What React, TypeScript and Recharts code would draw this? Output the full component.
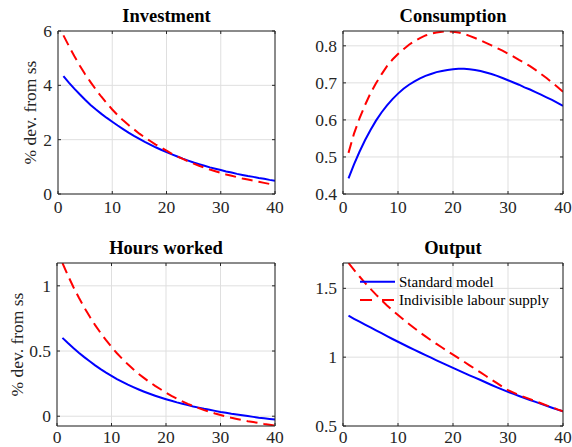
import { LineChart, Line, XAxis, YAxis, CartesianGrid, Legend } from 'recharts';

const PERIODS = [
  1, 2, 3, 4, 5, 6, 7, 8, 9, 10, 11, 12, 13, 14, 15, 16, 17, 18, 19, 20,
  21, 22, 23, 24, 25, 26, 27, 28, 29, 30, 31, 32, 33, 34, 35, 36, 37, 38, 39, 40,
];

const INVEST_STD = [
  4.34, 4.10, 3.88, 3.67, 3.47, 3.28, 3.11, 2.95, 2.80, 2.66, 2.52, 2.39, 2.26, 2.14, 2.03, 1.92, 1.82, 1.72, 1.63, 1.54,
  1.46, 1.38, 1.30, 1.23, 1.16, 1.10, 1.04, 0.98, 0.93, 0.88, 0.83, 0.79, 0.74, 0.70, 0.66, 0.63, 0.59, 0.56, 0.52, 0.49,
];
const INVEST_INDIV = [
  5.84, 5.45, 5.08, 4.73, 4.41, 4.12, 3.84, 3.58, 3.34, 3.11, 2.90, 2.71, 2.54, 2.38, 2.22, 2.08, 1.95, 1.82, 1.71, 1.60,
  1.48, 1.38, 1.29, 1.20, 1.12, 1.04, 0.97, 0.90, 0.84, 0.78, 0.72, 0.67, 0.62, 0.57, 0.53, 0.49, 0.45, 0.41, 0.37, 0.33,
];

const CONS_STD = [
  0.442, 0.480, 0.514, 0.545, 0.573, 0.598, 0.620, 0.639, 0.656, 0.671, 0.684, 0.695, 0.704, 0.712, 0.719, 0.724, 0.729, 0.732, 0.735, 0.737,
  0.738, 0.738, 0.737, 0.735, 0.732, 0.728, 0.724, 0.719, 0.713, 0.707, 0.701, 0.695, 0.688, 0.682, 0.675, 0.668, 0.661, 0.654, 0.646, 0.638,
];
const CONS_INDIV = [
  0.511, 0.563, 0.604, 0.640, 0.672, 0.699, 0.723, 0.745, 0.763, 0.778, 0.791, 0.803, 0.813, 0.821, 0.828, 0.833, 0.836, 0.838, 0.839, 0.838,
  0.836, 0.832, 0.827, 0.821, 0.815, 0.808, 0.801, 0.794, 0.787, 0.779, 0.771, 0.762, 0.754, 0.745, 0.735, 0.724, 0.713, 0.701, 0.689, 0.676,
];

const HOURS_STD = [
  0.601, 0.561, 0.523, 0.487, 0.453, 0.421, 0.390, 0.361, 0.334, 0.309, 0.285, 0.263, 0.242, 0.223, 0.205, 0.188, 0.172, 0.157, 0.143, 0.130,
  0.118, 0.106, 0.095, 0.085, 0.075, 0.066, 0.057, 0.049, 0.041, 0.033, 0.026, 0.019, 0.013, 0.007, 0.001, -0.005, -0.011, -0.016, -0.021, -0.026,
];
const HOURS_INDIV = [
  1.175, 1.080, 0.991, 0.910, 0.834, 0.764, 0.699, 0.639, 0.583, 0.531, 0.483, 0.439, 0.398, 0.360, 0.324, 0.292, 0.261, 0.233, 0.207, 0.180,
  0.156, 0.134, 0.114, 0.095, 0.078, 0.062, 0.047, 0.034, 0.021, 0.009, -0.002, -0.012, -0.021, -0.030, -0.038, -0.045, -0.052, -0.059, -0.065, -0.071,
];

const OUTPUT_STD = [
  1.301, 1.279, 1.258, 1.237, 1.216, 1.195, 1.174, 1.153, 1.132, 1.112, 1.092, 1.072, 1.053, 1.034, 1.015, 0.996, 0.977, 0.958, 0.940, 0.922,
  0.904, 0.886, 0.868, 0.851, 0.834, 0.816, 0.798, 0.781, 0.764, 0.748, 0.733, 0.718, 0.703, 0.689, 0.675, 0.661, 0.647, 0.633, 0.619, 0.606,
];
const OUTPUT_INDIV = [
  1.684, 1.634, 1.586, 1.540, 1.496, 1.454, 1.414, 1.376, 1.340, 1.306, 1.273, 1.241, 1.210, 1.180, 1.151, 1.123, 1.096, 1.070, 1.044, 1.019,
  0.993, 0.967, 0.941, 0.915, 0.889, 0.863, 0.837, 0.811, 0.785, 0.760, 0.742, 0.725, 0.710, 0.695, 0.680, 0.665, 0.650, 0.636, 0.621, 0.607,
];

const X_TICKS = [0, 10, 20, 30, 40];
const INVEST_TICKS = [0, 2, 4, 6];
const CONS_TICKS = [0.4, 0.5, 0.6, 0.7, 0.8];
const HOURS_TICKS = [0, 0.5, 1];
const OUTPUT_TICKS = [0.5, 1, 1.5];

const SERIES_NAMES = ['Standard model', 'Indivisible labour supply'];
const Y_LABEL = '% dev. from ss';

const FONT = '"Liberation Serif", "Times New Roman", serif';
const AXIS = '#262626';
const GRID = '#dfdfdf';
const BLUE = '#0000ff';
const RED = '#ff0000';
const DASH = '11 6';

function XTick({ x, y, payload, dy }: any) {
  return (
    <g>
      <line x1={x} y1={y} x2={x} y2={y - 3} stroke={AXIS} />
      <text x={x} y={y + dy} textAnchor="middle" fontSize={17.5} fontFamily={FONT} fill={AXIS}>
        {payload.value}
      </text>
    </g>
  );
}

function TopTick({ x, y }: any) {
  return <line x1={x} y1={y} x2={x} y2={y + 3} stroke={AXIS} />;
}

function YTick({ x, y, payload }: any) {
  return (
    <g>
      <line x1={x} y1={y} x2={x + 3} y2={y} stroke={AXIS} />
      <text x={x - 6} y={y + 6} textAnchor="end" fontSize={17.5} fontFamily={FONT} fill={AXIS}>
        {payload.value}
      </text>
    </g>
  );
}

function RightTick({ x, y }: any) {
  return <line x1={x} y1={y} x2={x - 3} y2={y} stroke={AXIS} />;
}

function LegendBox() {
  return (
    <svg width={210} height={42} style={{ display: 'block', overflow: 'visible' }}>
      <line x1={4} y1={11.7} x2={39} y2={11.7} stroke={BLUE} strokeWidth={2} />
      <text x={43} y={17} fontSize={15} fontFamily={FONT} fill="#000">{SERIES_NAMES[0]}</text>
      <line x1={4} y1={30} x2={39} y2={30} stroke={RED} strokeWidth={2} strokeDasharray="12 10" />
      <text x={43} y={35.3} fontSize={15} fontFamily={FONT} fill="#000">{SERIES_NAMES[1]}</text>
    </svg>
  );
}

interface PanelProps {
  title: string;
  std: number[];
  indiv: number[];
  domain: [number, number];
  yTicks: number[];
  left: number;
  top: number;
  height: number;
  // plot box inside the panel, in px
  box: { top: number; right: number; bottom: number; left: number };
  xLabelDy: number;
  yLabelX?: number;
  legend?: boolean;
}

function Panel({ title, std, indiv, domain, yTicks, left, top, height, box, xLabelDy, yLabelX, legend }: PanelProps) {
  const data = PERIODS.map((t, i) => ({ t, std: std[i], indiv: indiv[i] }));
  // every axis takes 1px, so take it back off the margin
  const margin = { top: box.top - 1, right: box.right - 1, bottom: box.bottom - 1, left: box.left - 1 };
  return (
    <div style={{ position: 'absolute', left, top }}>
      <LineChart width={286} height={height} data={data} margin={margin}>
        <CartesianGrid stroke={GRID} strokeWidth={1} />
        <XAxis
          dataKey="t"
          type="number"
          domain={[0, 40]}
          ticks={X_TICKS}
          interval={0}
          allowDataOverflow
          height={1}
          tickSize={0}
          tickMargin={0}
          tickLine={false}
          axisLine={{ stroke: AXIS }}
          tick={(p: any) => <XTick {...p} dy={xLabelDy} />}
        />
        <XAxis
          xAxisId="top"
          orientation="top"
          dataKey="t"
          type="number"
          domain={[0, 40]}
          ticks={X_TICKS}
          interval={0}
          allowDataOverflow
          height={1}
          tickSize={0}
          tickMargin={0}
          tickLine={false}
          axisLine={{ stroke: AXIS }}
          tick={(p: any) => <TopTick {...p} />}
          label={({ viewBox }: any) => (
            <text
              x={viewBox.x + viewBox.width / 2}
              y={viewBox.y + viewBox.height - 9.5}
              textAnchor="middle"
              fontSize={18.5}
              fontWeight="bold"
              fontFamily={FONT}
              fill="#000"
            >
              {title}
            </text>
          )}
        />
        <YAxis
          type="number"
          domain={domain}
          ticks={yTicks}
          interval={0}
          allowDataOverflow
          width={1}
          tickSize={0}
          tickMargin={0}
          tickLine={false}
          axisLine={{ stroke: AXIS }}
          tick={(p: any) => <YTick {...p} />}
          label={
            yLabelX !== undefined
              ? ({ viewBox }: any) => {
                  const cy = viewBox.y + viewBox.height / 2;
                  return (
                    <text
                      x={yLabelX}
                      y={cy}
                      transform={`rotate(-90, ${yLabelX}, ${cy})`}
                      textAnchor="middle"
                      fontSize={17.5}
                      fontFamily={FONT}
                      fill={AXIS}
                    >
                      {Y_LABEL}
                    </text>
                  );
                }
              : undefined
          }
        />
        <YAxis
          yAxisId="right"
          orientation="right"
          type="number"
          domain={domain}
          ticks={yTicks}
          interval={0}
          allowDataOverflow
          width={1}
          tickSize={0}
          tickMargin={0}
          tickLine={false}
          axisLine={{ stroke: AXIS }}
          tick={(p: any) => <RightTick {...p} />}
        />
        <Line
          dataKey="std"
          name={SERIES_NAMES[0]}
          stroke={BLUE}
          strokeWidth={2}
          dot={false}
          type="linear"
          isAnimationActive={false}
        />
        <Line
          dataKey="indiv"
          name={SERIES_NAMES[1]}
          stroke={RED}
          strokeWidth={2}
          strokeDasharray={DASH}
          dot={false}
          type="linear"
          isAnimationActive={false}
        />
        {legend && (
          <Legend
            layout="vertical"
            align="center"
            verticalAlign="middle"
            content={() => <LegendBox />}
            wrapperStyle={{ position: 'absolute', left: 70, top: 46, width: 210, height: 42 }}
          />
        )}
      </LineChart>
    </div>
  );
}

export default function App() {
  return (
    <div style={{ position: 'absolute', left: 0, top: 0, width: 572, height: 447, background: '#fff' }}>
      <Panel
        title="Investment"
        std={INVEST_STD}
        indiv={INVEST_INDIV}
        domain={[0, 6]}
        yTicks={INVEST_TICKS}
        left={0}
        top={0}
        height={224}
        box={{ top: 31, right: 11, bottom: 30, left: 58 }}
        xLabelDy={19}
        yLabelX={36}
      />
      <Panel
        title="Consumption"
        std={CONS_STD}
        indiv={CONS_INDIV}
        domain={[0.4, 0.84]}
        yTicks={CONS_TICKS}
        left={286}
        top={0}
        height={224}
        box={{ top: 31, right: 9, bottom: 30, left: 57 }}
        xLabelDy={19}
      />
      <Panel
        title="Hours worked"
        std={HOURS_STD}
        indiv={HOURS_INDIV}
        domain={[-0.075, 1.175]}
        yTicks={HOURS_TICKS}
        left={0}
        top={224}
        height={223}
        box={{ top: 39, right: 11, bottom: 21, left: 57 }}
        xLabelDy={16.5}
        yLabelX={23}
      />
      <Panel
        title="Output"
        std={OUTPUT_STD}
        indiv={OUTPUT_INDIV}
        domain={[0.5, 1.684]}
        yTicks={OUTPUT_TICKS}
        left={286}
        top={224}
        height={223}
        box={{ top: 39, right: 9, bottom: 21, left: 57 }}
        xLabelDy={16.5}
        legend
      />
    </div>
  );
}
